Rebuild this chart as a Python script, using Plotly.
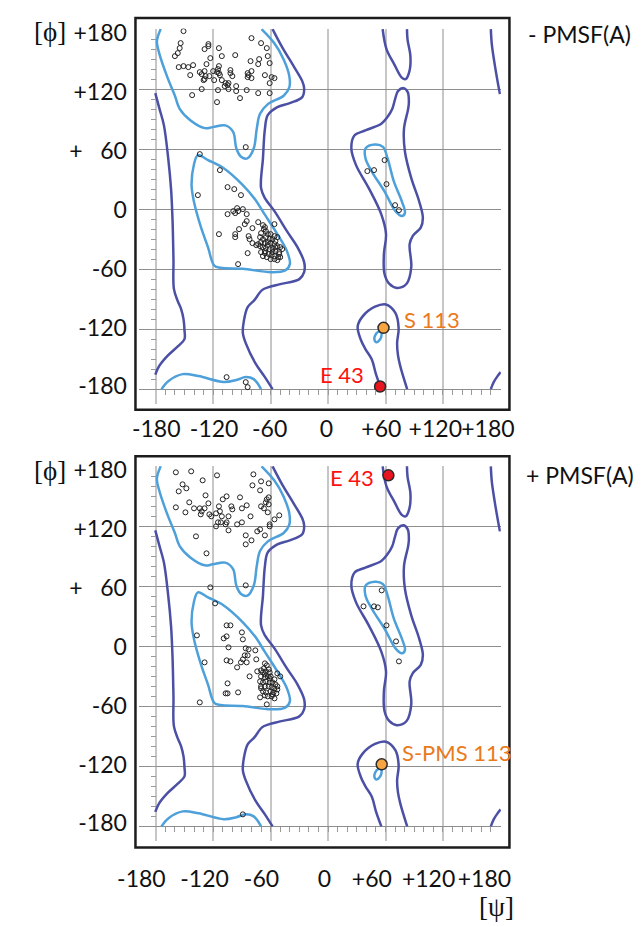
import plotly.graph_objects as go

# ---------------- data (psi, phi in degrees) ----------------
# residues, panel "- PMSF(A)"
top_points = [
    (-151, 178), (-154, 166), (-155, 161), (-157, 156), (-160, 153), (-125, 165), (-125, 163),
    (-129, 160), (-114, 161), (-111, 153), (-123, 151), (-127, 145), (-156, 142), (-151, 143),
    (-146, 142), (-141, 144), (-144, 134), (-134, 137), (-132, 135), (-129, 138), (-128, 133),
    (-130, 129), (-129, 130), (-124, 133), (-120, 138), (-116, 137), (-114, 143), (-115, 140),
    (-114, 136), (-113, 134), (-119, 129), (-111, 129), (-97, 154), (-102, 139), (-102, 136),
    (-100, 133), (-107, 126), (-105, 124), (-104, 126), (-108, 123), (-104, 120), (-96, 123),
    (-96, 118), (-115, 119), (-132, 120), (-142, 114), (-116, 107), (-92, 111), (-85, 119),
    (-73, 116), (-80, 171), (-70, 166), (-64, 161), (-63, 153), (-72, 150), (-81, 148),
    (-73, 145), (-61, 146), (-80, 138), (-84, 136), (-83, 134), (-84, 132), (-80, 131),
    (-66, 134), (-59, 132), (-56, 131), (-61, 126), (-61, 116), (-86, 62),
    (-134, 55), (-113, 39), (-136, 14), (-105, 22), (-98, 20), (-91, 14), (-95, 1), (-99, -2),
    (-94, -2), (-89, 0), (-105, -5), (-97, -4), (-85, -5), (-85, -12), (-87, -15), (-93, -20),
    (-79, -19), (-73, -13), (-56, -15), (-114, -25), (-97, -25), (-97, -28), (-83, -27),
    (-82, -30), (-79, -34), (-75, -36), (-84, -44), (-94, -55),
    (-68, -16), (-66, -18), (-67, -20), (-65, -22), (-70, -24), (-63, -25), (-60, -25), (-56, -27),
    (-71, -28), (-68, -30), (-65, -28), (-61, -30), (-58, -30), (-55, -32), (-53, -28), (-70, -33),
    (-66, -34), (-63, -33), (-60, -34), (-56, -35), (-53, -37), (-50, -38), (-48, -40), (-71, -37),
    (-68, -38), (-65, -39), (-61, -40), (-58, -40), (-55, -42), (-51, -43), (-70, -43), (-66, -44),
    (-62, -45), (-59, -46), (-56, -47), (-52, -48), (-50, -48), (-68, -47), (-64, -48), (-60, -50),
    (-56, -50), (-53, -51), (-66, -42), (-63, -36), (-73, -35), (-58, -43), (-55, -38), (-51, -45),
    (-106, -168), (-86, -173), (-84, -178),
    (59, 49), (41, 38), (48, 39), (61, 25), (70, 4), (74, -1),
]

# residues, panel "+ PMSF(A)"
bot_points = [
    (-159, 174), (-143, 175), (-152, 162), (-148, 158), (-156, 155), (-131, 166), (-116, 171),
    (-128, 151), (-159, 139), (-145, 144), (-149, 134), (-140, 138), (-134, 138), (-132, 135),
    (-133, 132), (-129, 138), (-125, 143), (-124, 132), (-122, 130), (-117, 133), (-114, 140),
    (-113, 135), (-111, 130), (-117, 120), (-115, 124), (-112, 124), (-107, 122), (-106, 124),
    (-104, 116), (-104, 130), (-110, 147), (-106, 150), (-101, 140), (-100, 137), (-92, 149),
    (-90, 138), (-85, 141), (-81, 130), (-95, 122), (-90, 124), (-138, 110), (-127, 93),
    (-86, 111), (-80, 106), (-86, 102), (-78, 172), (-79, 161), (-70, 165), (-62, 163),
    (-71, 156), (-64, 147), (-62, 149), (-65, 144), (-62, 142), (-70, 140), (-67, 138),
    (-63, 134), (-51, 131), (-56, 127), (-61, 122), (-61, 120), (-71, 117), (-74, 115), (-66, 111),
    (-123, 59), (-86, 61), (-118, 43), (-137, 11), (-106, 21), (-102, 21), (-106, 10), (-109, 8),
    (-90, 14), (-89, 7), (-104, -1), (-86, -2), (-83, -3), (-76, -4), (-87, -9), (-84, -9),
    (-89, -13), (-85, -16), (-91, -16), (-129, -16), (-106, -14), (-102, -15), (-95, -21),
    (-75, -13), (-74, -25), (-70, -24), (-82, -30), (-105, -37), (-107, -47), (-105, -47),
    (-94, -46), (-134, -56), (-71, -51), (-64, -58), (-53, -27), (-50, -30),
    (-66, -17), (-64, -19), (-67, -22), (-62, -23), (-65, -25), (-68, -26), (-61, -26), (-70, -30),
    (-66, -31), (-63, -30), (-60, -30), (-56, -33), (-71, -35), (-68, -36), (-65, -35), (-61, -36),
    (-58, -36), (-55, -38), (-70, -40), (-66, -40), (-62, -40), (-59, -41), (-56, -42), (-53, -43),
    (-68, -45), (-65, -46), (-60, -45), (-57, -46), (-54, -47), (-63, -50), (-59, -50), (-56, -52),
    (-66, -49), (-70, -42), (-53, -40), (-58, -48), (-61, -32), (-66, -28),
    (-89, -168),
    (56, 56), (37, 40), (48, 40), (52, 39), (61, 21), (71, 5), (74, -15),
]

# highlighted residues
top_special_names = ["S 113", "E 43"]
top_special_psi = [57.9, 54.3]
top_special_phi = [-118.7, -177.4]
bot_special_names = ["E 43", "S-PMS 113"]
bot_special_psi = [63.0, 56.0]
bot_special_phi = [171.0, -118.0]

# outer (allowed) contour lines
dark_alpha_beta = [
    (-58, 180), (-48, 162), (-36, 143), (-27, 128), (-25, 121), (-27, 112), (-40, 106), (-53, 102),
    (-63, 94), (-66, 80), (-68, 51), (-70, 21), (-66, 11), (-56, -2), (-43, -22), (-32, -38),
    (-25, -53), (-25, -63), (-30, -70), (-50, -75), (-62, -78), (-69, -81), (-77, -91), (-84, -98),
    (-88, -112), (-89, -124), (-86, -134), (-76, -154), (-66, -168), (-58, -180),
]
dark_left = [
    (-180.5, 116), (-176, 100), (-171.5, 84), (-167, 51), (-164, 20), (-162.5, -10), (-161.5, -50),
    (-161, -80), (-157, -92), (-153.5, -100), (-151, -110), (-150, -121), (-150, -130),
    (-156.7, -137), (-168, -147), (-176.5, -157), (-180.5, -165.5),
]
dark_right_top = [(170, 180), (171, 165), (174, 145), (177, 128), (179.5, 115)]
dark_right_bottom = [(170, -180), (173, -173), (177, -167), (180.3, -163)]
dark_u = [(57, 180), (61, 160), (69, 145), (77, 131.5), (81, 130), (85, 138), (86, 153),
          (83, 169.5), (82.4, 180)]
dark_left_handed = [
    (79, 121), (73, 118), (70, 110), (67, 100), (62, 92), (55.6, 85.4), (39, 78.7), (27.7, 73.8),
    (24.3, 60.6), (29.2, 44), (42.5, 21), (55.6, -5.3), (60.5, -25), (58.3, -45), (58.9, -64.7),
    (63.8, -74.6), (72, -78.8), (82, -74.6), (86.9, -58), (85.2, -35), (88.5, -26.7), (96.8, -18.5),
    (99, -8.6), (95.1, 7.9), (86.9, 31), (80.3, 57.4), (79.3, 80.4), (83.6, 100), (84.4, 107),
    (83.2, 117), (79, 121),
]
dark_gly = [
    (55.6, -180), (50, -165), (45.7, -150.3), (39, -140), (34.2, -130.6), (30.9, -117.4),
    (35.9, -107.5), (49, -97.6), (60.5, -95.3), (70.4, -104), (73.7, -119), (72.1, -134),
    (73, -146), (75.4, -157), (82.6, -180),
]

# inner (core) contour lines
light_beta = [
    (-174.8, 180), (-178.8, 167.8), (-176.5, 156.3), (-168.3, 133), (-160, 113.4), (-155, 100.2),
    (-143.6, 88.6), (-128.8, 81), (-120.5, 82), (-107.4, 83.7), (-99.2, 77.2), (-95.8, 60.6),
    (-90.9, 52.4), (-84.3, 50.7), (-77.7, 60.6), (-74.5, 80.4), (-71.1, 95.3), (-62.9, 105),
    (-46.4, 113.4), (-40.5, 121.7), (-40.5, 133), (-46.4, 149.7), (-56.3, 166), (-69.5, 180),
]
light_alpha = [
    (-136, 54), (-125.4, 49), (-109, 40.9), (-89.3, 24.3), (-76, 9.5), (-66.2, -5.3), (-53, -25),
    (-43.2, -41.5), (-39.9, -54.8), (-44.8, -61.3), (-59.6, -63), (-89.3, -59.7), (-112.3, -58.7),
    (-118.9, -56.4), (-125.4, -38.3), (-133.7, -15.2), (-140.2, 7.9), (-142.6, 24.3),
    (-140.2, 44.1), (-136, 54),
]
light_bottom = [(-174, -180), (-166.6, -171.8), (-151.8, -165), (-135.3, -166.9), (-109, -172.8),
                (-95.8, -170.8), (-86, -167.9), (-77.7, -170), (-70, -180)]
light_left_handed = [
    (39.1, 60.6), (49, 64.6), (57.3, 62.3), (62.2, 50.7), (68.7, 27.7), (77, 7.9), (80.3, -3.7),
    (77, -6.9), (70.4, -2), (58.9, 17.8), (45.7, 37.6), (39.1, 50.7), (39.1, 60.6),
]
light_gly = [(55.6, -123.3), (52.3, -122.7), (49, -126.6), (48.4, -130.6), (50.7, -133.2),
             (54, -130.6), (55.6, -127.3), (55.6, -123.3)]

dark_contours = [dark_alpha_beta, dark_left, dark_right_top, dark_right_bottom, dark_u,
                 dark_left_handed, dark_gly]
light_contours = [light_beta, light_alpha, light_bottom, light_left_handed, light_gly]

grid_vals = [-180, -120, -60, 0, 60, 120, 180]
minor_vals = list(range(-170, 180, 10))
x_tick_text = ["-180", "-120", "-60", "0", "+60", "+120", "+180"]
y_tick_text = ["+180", "+120", "+\u00a0\u00a0\u00a060", "0", "-60", "-120", "-180"]
panel_titles = ["- PMSF(A)", "+ PMSF(A)"]

# ---------------- layout geometry ----------------
W, H = 643, 927
KX, KY = 1.0125, 1.011          # px per degree
X0 = 323.7                      # pixel of psi = 0
Y0 = [201.3, 643.3]             # pixel of phi = 0 for each panel
X_RANGE = [-197, 180.5]
Y_RANGE = [-195, 180.5]

def fx(p):
    return p / W

def fy(p):
    return 1 - p / H

x_dom = [fx(X0 + KX * X_RANGE[0]), fx(X0 + KX * X_RANGE[1])]
y_doms = [[fy(y0 - KY * Y_RANGE[0]), fy(y0 - KY * Y_RANGE[1])] for y0 in Y0]

# label anchor positions (degrees) where the printed tick labels sit
x_label_pos = [[-179.5, -119, -61, -1.7, 55.6, 112, 167],
               [-195, -129, -69.6, -3.7, 45.7, 105, 163.3]]
y_label_pos = [176, 117, 58, -1, -60, -119, -177]
x_label_len = [4, 17]

DARK = "#4B50A5"
LIGHT = "#4DA0DA"
FONT = "Lato, 'Open Sans', sans-serif"
TICK_SIZE = 23

fig = go.Figure()

panels = [
    (top_points, top_special_names, top_special_psi, top_special_phi, ["#F7A541", "#E8141E"]),
    (bot_points, bot_special_names, bot_special_psi, bot_special_phi, ["#E8141E", "#F7A541"]),
]

annotations = []
for i, (pts, names, spsi, sphi, fills) in enumerate(panels):
    xa = "x" if i == 0 else "x2"
    ya = "y" if i == 0 else "y2"
    for c in dark_contours:
        fig.add_trace(go.Scatter(x=[p[0] for p in c], y=[p[1] for p in c], mode="lines",
                                 line=dict(color=DARK, width=2.5, shape="spline", smoothing=1.0),
                                 xaxis=xa, yaxis=ya, hoverinfo="skip", showlegend=False))
    for c in light_contours:
        fig.add_trace(go.Scatter(x=[p[0] for p in c], y=[p[1] for p in c], mode="lines",
                                 line=dict(color=LIGHT, width=2.5, shape="spline", smoothing=1.0),
                                 xaxis=xa, yaxis=ya, hoverinfo="skip", showlegend=False))
    fig.add_trace(go.Scatter(x=[p[0] for p in pts], y=[p[1] for p in pts], mode="markers",
                             marker=dict(size=5, color="rgba(255,255,255,0)",
                                         line=dict(color="#222", width=1)),
                             xaxis=xa, yaxis=ya, hoverinfo="skip", showlegend=False))
    fig.add_trace(go.Scatter(x=spsi, y=sphi, mode="markers",
                             marker=dict(size=11, color=fills, line=dict(color="#2a2a2a", width=1.5)),
                             xaxis=xa, yaxis=ya, hoverinfo="skip", showlegend=False))
    # dummy traces for label axes
    fig.add_trace(go.Scatter(x=[0], y=[0], mode="markers", marker=dict(opacity=0),
                             xaxis="x%d" % (3 + i), yaxis="y%d" % (3 + i),
                             hoverinfo="skip", showlegend=False))

    for name, ps, ph in zip(names, spsi, sphi):
        if name.startswith("E"):
            col, anc = "#FF1010", "right"
            xs, ys = (-14, 12) if i == 0 else (-12, -2)
        else:
            col, anc = "#EA7A1C", "left"
            xs, ys = 18, (8 if i == 0 else 12)
        annotations.append(dict(x=ps, y=ph, xref=xa, yref=ya, text=name, showarrow=False,
                                xanchor=anc, yanchor="middle", xshift=xs, yshift=ys,
                                font=dict(family=FONT, size=22, color=col)))

    # panel decorations
    annotations.append(dict(x=fx(30), y=fy(22 + 444 * i), xref="paper", yref="paper",
                            text="[\u03d5]", showarrow=False, xanchor="center", yanchor="middle",
                            font=dict(family="Liberation Serif, serif", size=27, color="#111")))
    annotations.append(dict(x=fx(533 - 2 * i), y=fy(24 + 446 * i), xref="paper", yref="paper",
                            text=panel_titles[i], showarrow=False, xanchor="left", yanchor="middle",
                            font=dict(family=FONT, size=23, color="#111")))

annotations.append(dict(x=fx(502), y=fy(907), xref="paper", yref="paper", text="[\u03c8]",
                        showarrow=False, xanchor="center", yanchor="middle",
                        font=dict(family="Liberation Serif, serif", size=27, color="#111")))

layout_axes = {}
for i in range(2):
    sx = "" if i == 0 else "2"
    y0 = Y0[i]
    layout_axes["xaxis" + sx] = dict(
        domain=x_dom, range=X_RANGE, anchor="free", position=fy(y0 + KY * 180),
        tickmode="array", tickvals=grid_vals, showgrid=True, gridcolor="#C6C6C6", gridwidth=1.5,
        zeroline=False, showline=False, ticks="", showticklabels=False, fixedrange=True,
        minor=dict(tickmode="array", tickvals=minor_vals, ticks="outside", ticklen=5,
                   tickwidth=1, tickcolor="#9a9a9a", showgrid=False))
    layout_axes["yaxis" + sx] = dict(
        domain=y_doms[i], range=Y_RANGE, anchor="free", position=fx(X0 - KX * 180),
        tickmode="array", tickvals=grid_vals, showgrid=True, gridcolor="#8E8E8E", gridwidth=1,
        zeroline=False, showline=False, ticks="", showticklabels=False, fixedrange=True,
        minor=dict(tickmode="array", tickvals=minor_vals, ticks="outside", ticklen=5,
                   tickwidth=1, tickcolor="#9a9a9a", showgrid=False))
    layout_axes["xaxis%d" % (3 + i)] = dict(
        overlaying="x" + sx, anchor="free", position=y_doms[i][0], range=X_RANGE, domain=x_dom,
        tickmode="array", tickvals=x_label_pos[i], ticktext=x_tick_text, ticks="outside",
        ticklen=x_label_len[i], tickcolor="rgba(0,0,0,0)", showgrid=False, zeroline=False,
        showline=False, fixedrange=True, tickangle=0,
        tickfont=dict(family=FONT, size=TICK_SIZE, color="#111"))
    layout_axes["yaxis%d" % (3 + i)] = dict(
        overlaying="y" + sx, anchor="free", position=x_dom[0], range=Y_RANGE, domain=y_doms[i],
        tickmode="array", tickvals=y_label_pos, ticktext=y_tick_text, ticks="outside",
        ticklen=8, tickcolor="rgba(0,0,0,0)", showgrid=False, zeroline=False,
        showline=False, fixedrange=True, tickangle=0,
        tickfont=dict(family=FONT, size=TICK_SIZE, color="#111"))

boxes = [(120, 8, 515.5, 404), (120, 451, 515.5, 846.7)]
shapes = [dict(type="rect", xref="paper", yref="paper", x0=fx(a), x1=fx(c), y0=fy(d), y1=fy(b),
               line=dict(color="#1c1c1c", width=2.5), fillcolor="rgba(0,0,0,0)", layer="above")
          for a, b, c, d in boxes]

fig.update_layout(width=W, height=H, margin=dict(l=0, r=0, t=0, b=0),
                  paper_bgcolor="white", plot_bgcolor="rgba(0,0,0,0)",
                  showlegend=False, annotations=annotations, shapes=shapes, **layout_axes)

fig.write_html("out.html", config={"displayModeBar": False})
